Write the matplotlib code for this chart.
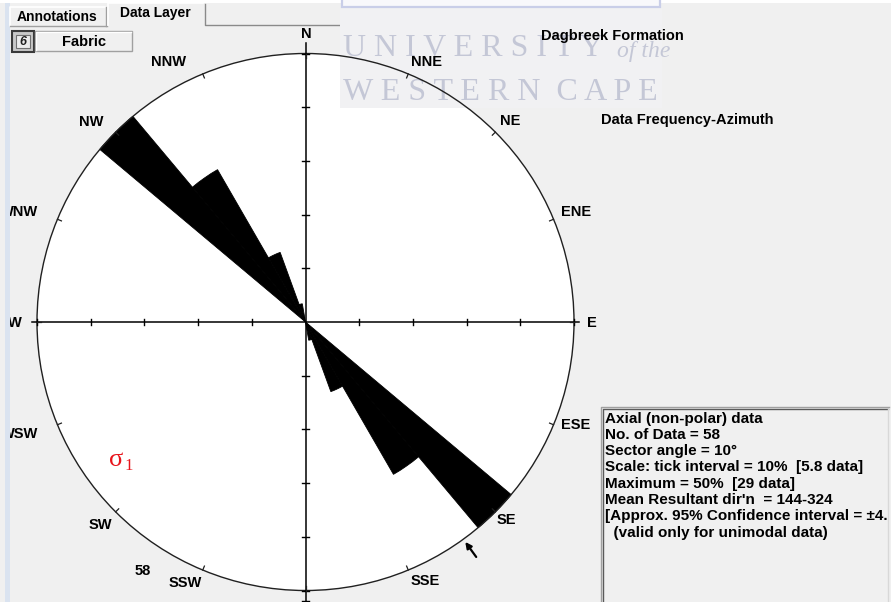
import numpy as np
import matplotlib
matplotlib.use("Agg")
import matplotlib.pyplot as plt
from matplotlib.patches import Wedge, Circle, Rectangle, FancyArrowPatch

# ---------------- data ----------------
sector_start = [130, 140, 150, 160]      # azimuth where each 10-degree sector begins
sector_count = [29, 19, 8, 2]            # number of fabric measurements per sector
sector_angle = 10
tick_interval_pct = 10
mean_dir = 144
conf_interval = 4.4
compass_names = ["N", "NNE", "NE", "ENE", "E", "ESE", "SE", "SSE",
                 "S", "SSW", "SW", "WSW", "W", "WNW", "NW", "NNW"]
formation = "Dagbreek Formation"
plot_kind = "Data Frequency-Azimuth"
layer_name = "Fabric"
tab_names = ["Annotations", "Data Layer"]

n_total = sum(sector_count)
max_count = max(sector_count)
max_pct = round(100 * max_count / n_total)

# ---------------- figure ----------------
W, H = 891, 602
fig = plt.figure(figsize=(W / 100, H / 100), dpi=100)
BG = "#F0F0F0"
fig.patch.set_facecolor(BG)
FONT = "Liberation Sans"

# background / window chrome in pixel coordinates
ax_bg = fig.add_axes([0, 0, 1, 1], zorder=0)
ax_bg.set_xlim(0, W)
ax_bg.set_ylim(H, 0)
ax_bg.axis("off")
ax_bg.add_patch(Rectangle((0, 0), W, 3, facecolor="white", edgecolor="none"))
ax_bg.add_patch(Rectangle((5, 3), 5, H, facecolor="#DAE3F0", edgecolor="none"))

# tabs
ax_bg.plot([10, 10, 106], [26, 7, 7], color="white", lw=1.2)
ax_bg.plot([106, 106], [7, 26], color="#A0A0A0", lw=1)
ax_bg.plot([10, 107], [26, 26], color="#A0A0A0", lw=1)
ax_bg.plot([108, 108, 203], [25, 3, 3], color="white", lw=1.2)
ax_bg.plot([205, 205, 595], [4, 25, 25], color="#8A8A8A", lw=1)
ax_bg.text(57, 17, tab_names[0], ha="center", va="center", fontsize=10,
           fontweight="bold", family=FONT)
ax_bg.text(155, 13.5, tab_names[1], ha="center", va="center", fontsize=10,
           fontweight="bold", family=FONT)

# layer button
ax_bg.add_patch(Rectangle((12, 31), 22, 21, facecolor="#C8C8C8",
                          edgecolor="#3A3A3A", lw=1.5))
ax_bg.add_patch(Rectangle((16, 35), 14, 13, facecolor="#ECECEC",
                          edgecolor="#707070", lw=0.8))
ax_bg.text(23, 42, "6", ha="center", va="center", fontsize=9,
           fontweight="bold", style="italic", family=FONT, color="#202020")
ax_bg.add_patch(Rectangle((35, 31), 97, 20, facecolor=BG,
                          edgecolor="#A0A0A0", lw=1))
ax_bg.plot([36, 36, 131], [50, 32, 32], color="white", lw=1)
ax_bg.text(84, 42, layer_name, ha="center", va="center", fontsize=10.5,
           fontweight="bold", family=FONT)

# statistics panel border
ax_bg.plot([601, 601, 889], [H, 407, 407], color="#A0A0A0", lw=1)
ax_bg.plot([602.5, 602.5, 888], [H, 408.5, 408.5], color="#5A5A5A", lw=1)
ax_bg.plot([888, 888], [409, H], color="#D8D8D8", lw=1)

# ---------------- rose diagram (percent units) ----------------
cx, cy, px_per_pct = 305.5, 322.0, 5.37
half = 60.0
half_px = half * px_per_pct
ax = fig.add_axes([(cx - half_px) / W, (H - cy - half_px) / H,
                   2 * half_px / W, 2 * half_px / H], zorder=1)
ax.set_xlim(-half, half)
ax.set_ylim(-half, half)
ax.axis("off")
ax.patch.set_alpha(0)

R = max_pct
ax.add_patch(Circle((0, 0), R, facecolor="white", edgecolor="none", zorder=0))

# university watermark band
ax.add_patch(Rectangle((340, 8), 322, 100, transform=ax_bg.transData,
                       facecolor="#F1F1F3", edgecolor="none", zorder=0.5,
                       clip_on=False))
ax.add_patch(Rectangle((342, -2), 318, 9, transform=ax_bg.transData,
                       facecolor="#F8F8FB", edgecolor="#C9CEE8", lw=1.6,
                       zorder=0.5, clip_on=False))
wm = "#C4C7D6"
ax.text(343, 49, "U N I V E R S I T Y", transform=ax_bg.transData,
        fontsize=23, family="Liberation Serif", color=wm, ha="left",
        va="center", zorder=0.6, clip_on=False)
ax.text(617, 51, "of the", transform=ax_bg.transData, fontsize=17,
        family="Liberation Serif", style="italic", color=wm, ha="left",
        va="center", zorder=0.6, clip_on=False)
ax.text(343, 92, "W E S T E R N  C A P E", transform=ax_bg.transData,
        fontsize=23, family="Liberation Serif", color=wm, ha="left",
        va="center", zorder=0.6, clip_on=False)

# petals (axial data: each sector drawn with its opposite)
for start, count in zip(sector_start, sector_count):
    r = 100.0 * count / n_total
    for b in (start, start + 180):
        ax.add_patch(Wedge((0, 0), r, 90 - (b + sector_angle), 90 - b,
                           facecolor="black", edgecolor="black", lw=0.6,
                           zorder=2))

# outer circle
ax.add_patch(Circle((0, 0), R, facecolor="none", edgecolor="#202020",
                    lw=1.0, zorder=3))

# cross axes with scale ticks
ax.plot([-51, 51], [0, 0], color="black", lw=1.1, zorder=3)
ax.plot([0, 0], [-52, 52], color="black", lw=1.1, zorder=3)
tk = 0.65
for v in np.arange(tick_interval_pct, R + 0.1, tick_interval_pct):
    for s in (-1, 1):
        ax.plot([s * v, s * v], [-tk, tk], color="black", lw=1, zorder=3)
        ax.plot([-tk, tk], [s * v, s * v], color="black", lw=1, zorder=3)
ax.plot([-tk, tk], [-52, -52], color="black", lw=1, zorder=3)

# compass point ticks on circle
for i in range(16):
    a = np.deg2rad(i * 22.5)
    ax.plot([49.2 * np.sin(a), R * np.sin(a)], [49.2 * np.cos(a), R * np.cos(a)],
            color="#202020", lw=0.9, zorder=3)

# mean resultant direction arrow
ma = np.deg2rad(mean_dir)
arrow = FancyArrowPatch((54.6 * np.sin(ma), 54.6 * np.cos(ma)),
                        (50.1 * np.sin(ma), 50.1 * np.cos(ma)),
                        arrowstyle="-|>", mutation_scale=9, lw=1.6,
                        color="black", zorder=4, clip_on=False)
ax.add_patch(arrow)

# ---------------- labels (pixel coordinates, clipped at panel edge) ----------------
ax_lab = fig.add_axes([10 / W, 0, (W - 10) / W, 1], zorder=2)
ax_lab.set_xlim(10, W)
ax_lab.set_ylim(H, 0)
ax_lab.axis("off")
ax_lab.patch.set_alpha(0)

# the south label falls below the visible panel, so it has no position here
label_pos = {
    "N": (306, 34, "center"), "NNE": (411, 62, "left"), "NE": (500, 121, "left"),
    "ENE": (561, 212, "left"), "E": (587, 323, "left"), "ESE": (561, 425, "left"),
    "SE": (497, 520, "left"), "SSE": (411, 581, "left"),
    "SSW": (202, 583, "right"), "SW": (112, 525, "right"), "WSW": (38, 434, "right"),
    "W": (22, 323, "right"), "WNW": (38, 212, "right"), "NW": (103, 122, "right"),
    "NNW": (186, 62, "right"),
}
for name in compass_names:
    if name not in label_pos:
        continue
    x, y, ha = label_pos[name]
    ax_lab.text(x, y, name, ha=ha, va="center", fontsize=10.5, fontweight="bold",
                family=FONT, clip_on=True)

ax_lab.text(541, 36, formation, ha="left", va="center", fontsize=10.5,
            fontweight="bold", family=FONT)
ax_lab.text(601, 120, plot_kind, ha="left", va="center", fontsize=10.5,
            fontweight="bold", family=FONT)
ax_lab.text(109, 460, "\u03c3", ha="left", va="center", fontsize=19,
            color="#E8141B", family="Liberation Serif")
ax_lab.text(124, 466, "1", ha="left", va="center", fontsize=12,
            color="#E8141B", family="Liberation Serif")
ax_lab.text(143, 571, str(n_total), ha="center", va="center", fontsize=10.5,
            fontweight="bold", family=FONT)

# ---------------- statistics text ----------------
ax_info = fig.add_axes([604 / W, 0, (887 - 604) / W, (H - 409) / H], zorder=3)
ax_info.set_xlim(604, 887)
ax_info.set_ylim(H, 409)
ax_info.axis("off")
ax_info.patch.set_alpha(0)
info_lines = [
    "Axial (non-polar) data",
    f"No. of Data = {n_total}",
    f"Sector angle = {sector_angle}\u00b0",
    f"Scale: tick interval = {tick_interval_pct}%  [{n_total * tick_interval_pct / 100:.1f} data]",
    f"Maximum = {max_pct}%  [{max_count} data]",
    f"Mean Resultant dir'n  = {mean_dir}-{mean_dir + 180}",
    f"[Approx. 95% Confidence interval = \u00b1{conf_interval}\u00b0]",
    "  (valid only for unimodal data)",
]
for i, line in enumerate(info_lines):
    ax_info.text(605, 418.5 + 16.3 * i, line, ha="left", va="center",
                 fontsize=11, fontweight="bold", family=FONT, clip_on=True)

fig.savefig("out.png", dpi=100, facecolor=BG)
